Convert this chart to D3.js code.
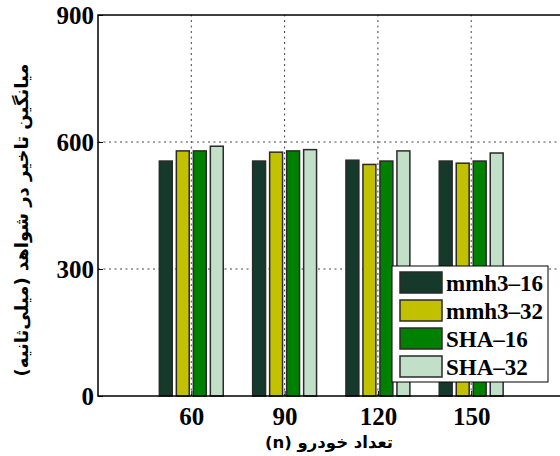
<!DOCTYPE html>
<html>
<head>
<meta charset="utf-8">
<script src="https://cdn.jsdelivr.net/npm/d3@7"></script>
<style>
  body { margin: 0; background: #fff; }
  svg { display: block; }
</style>
</head>
<body>
<svg id="chart"></svg>
<script>
// data
var categories = [60, 90, 120, 150];
var seriesNames = ["mmh3\u201316", "mmh3\u201332", "SHA\u201316", "SHA\u201332"];
var seriesColors = ["#15392a", "#c2c100", "#008000", "#c2dfc8"];
var mmh3_16 = [555, 555, 557, 555];
var mmh3_32 = [579, 576, 547, 550];
var sha_16 = [579, 579, 555, 555];
var sha_32 = [590, 582, 579, 574];
var yTicks = [0, 300, 600, 900];
var xLabel = "تعداد خودرو (n)";
var yLabel = "میانگین تاخیر در شواهد (میلی‌ثانیه)";

var seriesValues = [mmh3_16, mmh3_32, sha_16, sha_32];

var width = 560,
    height = 456;

var svg = d3.select("#chart")
  .attr("width", width)
  .attr("height", height);

var x = d3.scaleLinear().domain([30, 180]).range([98, 564.5]);
var y = d3.scaleLinear().domain([0, 900]).range([396, 15]);

// bars inside a group
var inner = d3.scaleBand()
  .domain(d3.range(seriesNames.length))
  .range([-34, 34])
  .paddingInner(0.24)
  .paddingOuter(0.12);

// grid
svg.append("g")
  .selectAll("line.hgrid")
  .data(yTicks.filter(function (d) { return d > 0 && d < 900; }))
  .enter()
  .append("line")
  .attr("x1", x.range()[0])
  .attr("x2", x.range()[1])
  .attr("y1", function (d) { return y(d); })
  .attr("y2", function (d) { return y(d); })
  .style("stroke", "#444")
  .style("stroke-width", 1)
  .style("stroke-dasharray", "2,3.5");

svg.append("g")
  .selectAll("line.vgrid")
  .data(categories)
  .enter()
  .append("line")
  .attr("x1", function (d) { return x(d); })
  .attr("x2", function (d) { return x(d); })
  .attr("y1", y.range()[0])
  .attr("y2", y.range()[1])
  .style("stroke", "#444")
  .style("stroke-width", 1)
  .style("stroke-dasharray", "2,3.5");

// bars
var groups = svg.append("g")
  .selectAll("g.series")
  .data(seriesValues)
  .enter()
  .append("g")
  .attr("class", "series")
  .style("fill", function (d, i) { return seriesColors[i]; });

groups.each(function (vals, si) {
  d3.select(this)
    .selectAll("rect")
    .data(vals)
    .enter()
    .append("rect")
    .attr("x", function (d, ci) { return x(categories[ci]) + inner(si); })
    .attr("width", inner.bandwidth())
    .attr("y", function (d) { return y(d); })
    .attr("height", function (d) { return y(0) - y(d); })
    .style("stroke", "#2a2a2a")
    .style("stroke-width", 1.5);
});

// axes box
svg.append("rect")
  .attr("x", x.range()[0])
  .attr("y", y.range()[1])
  .attr("width", x.range()[1] - x.range()[0])
  .attr("height", y.range()[0] - y.range()[1])
  .style("fill", "none")
  .style("stroke", "#000")
  .style("stroke-width", 1.5);

var yAxis = d3.axisLeft(y).tickValues(yTicks).tickSizeInner(-5).tickSizeOuter(0).tickPadding(4);
var xAxis = d3.axisBottom(x).tickValues(categories).tickSizeInner(-5).tickSizeOuter(0).tickPadding(11);

var gy = svg.append("g")
  .attr("transform", "translate(" + x.range()[0] + ",0)")
  .call(yAxis);
var gx = svg.append("g")
  .attr("transform", "translate(0," + y.range()[0] + ")")
  .call(xAxis);

[gx, gy].forEach(function (g) {
  g.select(".domain").remove();
  g.selectAll("line").style("stroke", "#000");
  g.selectAll("text")
    .style("font-family", "'Liberation Serif', 'Times New Roman', serif")
    .style("font-weight", "bold")
    .style("font-size", "25px")
    .style("fill", "#000");
});

// axis titles
svg.append("text")
  .attr("x", 329)
  .attr("y", 448)
  .attr("text-anchor", "middle")
  .attr("direction", "rtl")
  .style("font-family", "'DejaVu Sans', sans-serif")
  .style("font-weight", "bold")
  .style("font-size", "16.5px")
  .text(xLabel);

svg.append("text")
  .attr("transform", "translate(28,220) rotate(-90)")
  .attr("text-anchor", "middle")
  .attr("direction", "rtl")
  .style("font-family", "'DejaVu Sans', sans-serif")
  .style("font-weight", "bold")
  .style("font-size", "18px")
  .text(yLabel);

// legend
var legend = svg.append("g")
  .attr("transform", "translate(392,266)");

legend.append("rect")
  .attr("width", 156)
  .attr("height", 116)
  .style("fill", "#fff")
  .style("stroke", "#000")
  .style("stroke-width", 1);

var items = legend.selectAll("g.item")
  .data(seriesNames)
  .enter()
  .append("g")
  .attr("class", "item")
  .attr("transform", function (d, i) { return "translate(8," + (6 + i * 28) + ")"; });

items.append("rect")
  .attr("width", 42)
  .attr("height", 21)
  .style("fill", function (d, i) { return seriesColors[i]; })
  .style("stroke", "#2a2a2a")
  .style("stroke-width", 1.5);

items.append("text")
  .attr("x", 46)
  .attr("y", 19)
  .style("font-family", "'Liberation Serif', 'Times New Roman', serif")
  .style("font-weight", "bold")
  .style("font-size", "23px")
  .text(function (d) { return d; });
</script>
</body>
</html>
